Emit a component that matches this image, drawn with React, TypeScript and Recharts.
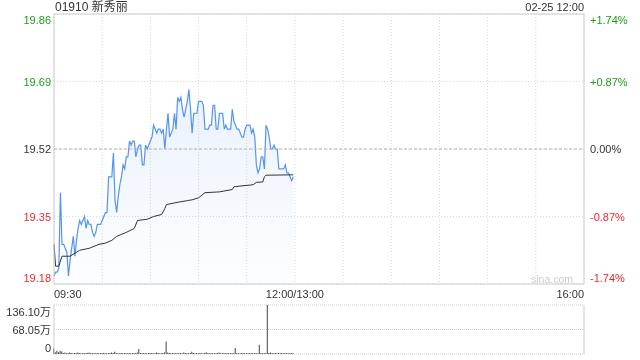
import React from "react";
import {
  ComposedChart,
  BarChart,
  Area,
  Line,
  Bar,
  XAxis,
  YAxis,
  CartesianGrid,
  ReferenceLine,
} from "recharts";

// minute index from 09:30 (0) to 16:00 (330), lunch break removed
const priceValues = [
  19.2, 19.21, 19.21, 19.22, 19.41, 19.28, 19.28, 19.27, 19.26, 19.2,
  19.24, 19.27, 19.3, 19.25, 19.29, 19.32, 19.34, 19.33, 19.34, 19.35,
  19.32, 19.34, 19.33, 19.33, 19.31, 19.3, 19.31, 19.33, 19.33, 19.33,
  19.34, 19.35, 19.36, 19.36, 19.45, 19.45, 19.45, 19.51, 19.39, 19.36,
  19.4, 19.43, 19.45, 19.48, 19.47, 19.5, 19.5, 19.54, 19.53, 19.54,
  19.54, 19.5, 19.52, 19.53, 19.53, 19.48, 19.48, 19.53, 19.52, 19.53,
  19.54, 19.55, 19.58, 19.57, 19.56, 19.57, 19.57, 19.56, 19.57, 19.52,
  19.57, 19.61, 19.55, 19.56, 19.57, 19.61, 19.57, 19.65, 19.64, 19.65,
  19.62, 19.6, 19.62, 19.64, 19.67, 19.62, 19.56, 19.61, 19.61, 19.61,
  19.64, 19.64, 19.64, 19.63, 19.57, 19.57, 19.57, 19.58, 19.58, 19.63,
  19.63, 19.57, 19.57, 19.61, 19.61, 19.61, 19.57, 19.58, 19.57, 19.57,
  19.57, 19.62, 19.59, 19.58, 19.57, 19.57, 19.56, 19.55, 19.55, 19.57,
  19.58, 19.58, 19.58, 19.56, 19.57, 19.55, 19.48, 19.46, 19.47, 19.5,
  19.5, 19.47, 19.58, 19.57, 19.55, 19.52, 19.52, 19.53, 19.52, 19.52,
  19.47, 19.47, 19.47, 19.47, 19.48, 19.46, 19.46, 19.45, 19.44, 19.45,
];

// average price line, read at the points where it changes slope
const avgMinutes = [
  0, 1, 3, 5, 10, 16, 22, 28, 32, 36, 39, 45, 50, 52, 58, 62, 67, 69, 70, 76,
  83, 86, 90, 91, 94, 103, 111, 112, 124, 126, 130, 131, 132, 149,
];
const avgValues = [
  19.28, 19.225, 19.225, 19.25, 19.25, 19.265, 19.27, 19.28, 19.283, 19.29,
  19.3, 19.31, 19.32, 19.34, 19.343, 19.35, 19.355, 19.37, 19.38, 19.385,
  19.39, 19.392, 19.397, 19.4, 19.41, 19.412, 19.418, 19.425, 19.43, 19.436,
  19.437, 19.45, 19.454, 19.455,
];

// volume per minute, in 万
const volumeValues = [
  15, 5, 9, 5, 9, 7, 3, 4, 2, 3,
  4, 3, 2, 3, 2, 4, 3, 2, 2, 3,
  2, 3, 4, 2, 3, 2, 2, 3, 2, 3,
  2, 3, 2, 2, 3, 2, 4, 3, 6, 3,
  2, 2, 3, 2, 3, 2, 2, 3, 2, 3,
  2, 3, 4, 14, 3, 2, 3, 2, 2, 3,
  2, 3, 2, 2, 4, 3, 2, 2, 3, 4,
  35, 4, 3, 2, 3, 2, 3, 2, 2, 3,
  2, 4, 3, 2, 2, 3, 6, 3, 2, 3,
  2, 3, 2, 2, 3, 5, 3, 2, 2, 3,
  2, 2, 3, 4, 2, 2, 3, 2, 2, 3,
  2, 3, 2, 17, 3, 2, 2, 3, 2, 2,
  3, 2, 2, 3, 2, 3, 2, 2, 26, 3,
  2, 3, 2, 136.1, 3, 4, 3, 2, 3, 2,
  3, 2, 3, 2, 2, 3, 2, 2, 3, 2,
];

const priceTicks = [19.18, 19.35, 19.52, 19.69, 19.86];
const priceLabels = ["19.18", "19.35", "19.52", "19.69", "19.86"];
const pctLabels = ["-1.74%", "-0.87%", "0.00%", "+0.87%", "+1.74%"];
const timeTicks = [0, 30, 60, 90, 120, 150, 180, 210, 240, 270, 300, 330];
const timeLabelTicks = [0, 150, 330];
const timeLabels = ["09:30", "12:00/13:00", "16:00"];
const volTicks = [0, 68.05, 136.1];
const volLabels = ["0", "68.05万", "136.10万"];

const GREEN = "#1c9e1c";
const RED = "#ee2a2a";
const FONT = "Arial, 'Liberation Sans', 'Noto Sans CJK SC', sans-serif";

const tableData = priceValues.map((p, i) => {
  const k = avgMinutes.indexOf(i);
  return {
    m: i,
    price: p,
    avg: k >= 0 ? avgValues[k] : null,
    vol: volumeValues[i],
  };
});

function PriceTick(props: any) {
  const { y, payload } = props;
  const i = priceTicks.indexOf(payload.value);
  if (i < 0) return null;
  const color = i < 2 ? RED : i === 2 ? "#333" : GREEN;
  const dy = i === 0 ? -6 : i === priceTicks.length - 1 ? 6 : 0;
  return (
    <g>
      <text x={51} y={y + dy} textAnchor="end" dominantBaseline="central" fontSize={11} fill={color}>
        {priceLabels[i]}
      </text>
      <text x={590} y={y + dy} textAnchor="start" dominantBaseline="central" fontSize={11} fill={color}>
        {pctLabels[i]}
      </text>
    </g>
  );
}

function TimeTick(props: any) {
  const { x, y, payload } = props;
  const i = timeLabelTicks.indexOf(payload.value);
  if (i < 0) return null;
  const anchor = i === 0 ? "start" : i === timeLabelTicks.length - 1 ? "end" : "middle";
  return (
    <text x={x} y={y + 8} textAnchor={anchor} dominantBaseline="central" fontSize={11} fill="#333">
      {timeLabels[i]}
    </text>
  );
}

function VolTick(props: any) {
  const { y, payload } = props;
  const i = volTicks.indexOf(payload.value);
  if (i < 0) return null;
  const dy = i === 0 ? -6 : i === volTicks.length - 1 ? 7 : 0;
  return (
    <text x={51} y={y + dy} textAnchor="end" dominantBaseline="central" fontSize={11} fill="#333">
      {volLabels[i]}
    </text>
  );
}

export default function App() {
  return (
    <div
      style={{
        position: "fixed",
        left: 0,
        top: 0,
        width: 640,
        height: 360,
        background: "#fff",
        fontFamily: FONT,
      }}
    >
      <div style={{ position: "absolute", left: 55, top: 0, fontSize: 12, color: "#333", lineHeight: "15px" }}>
        01910 新秀丽
      </div>
      <div style={{ position: "absolute", right: 56, top: 0, fontSize: 11, color: "#333", lineHeight: "15px" }}>
        02-25 12:00
      </div>

      <div style={{ position: "absolute", left: 0, top: 0 }}>
        <ComposedChart
          width={640}
          height={300}
          data={tableData}
          margin={{ top: 14, right: 56, left: 0, bottom: 0 }}
        >
          <defs>
            <linearGradient id="priceFill" x1="0" y1="0" x2="0" y2="1">
              <stop offset="0%" stopColor="#5291f0" stopOpacity={0.2} />
              <stop offset="100%" stopColor="#5291f0" stopOpacity={0.02} />
            </linearGradient>
          </defs>
          <CartesianGrid stroke="#d8d8d8" strokeDasharray="1 2" />
          <XAxis
            type="number"
            dataKey="m"
            domain={[0, 330]}
            ticks={timeTicks}
            interval={0}
            height={16}
            tickLine={false}
            tickSize={0}
            axisLine={{ stroke: "#ccc" }}
            tick={<TimeTick />}
          />
          <YAxis
            type="number"
            domain={[19.18, 19.86]}
            ticks={priceTicks}
            interval={0}
            width={54}
            tickLine={false}
            tickSize={0}
            axisLine={{ stroke: "#ccc" }}
            tick={<PriceTick />}
            allowDataOverflow
          />
          <ReferenceLine y={19.52} stroke="#b4b4b4" strokeDasharray="3 2" />
          <ReferenceLine y={19.86} stroke="#ccc" />
          <ReferenceLine x={330} stroke="#ccc" />
          <Area
            type="linear"
            dataKey="price"
            stroke="#5593f0"
            strokeWidth={1.2}
            fill="url(#priceFill)"
            dot={false}
            activeDot={false}
            isAnimationActive={false}
          />
          <Line
            type="linear"
            dataKey="avg"
            stroke="#333"
            strokeWidth={1}
            dot={false}
            activeDot={false}
            connectNulls
            isAnimationActive={false}
          />
        </ComposedChart>
      </div>

      <div
        style={{
          position: "absolute",
          right: 67,
          top: 273,
          fontSize: 10.5,
          color: "#ccc",
          lineHeight: "12px",
        }}
      >
        sina.com
      </div>

      <div style={{ position: "absolute", left: 0, top: 300 }}>
        <BarChart
          width={640}
          height={55}
          data={tableData}
          margin={{ top: 5, right: 56, left: 0, bottom: 1 }}
        >
          <CartesianGrid stroke="#ccc" strokeDasharray="1 1" vertical={false} />
          <XAxis type="number" dataKey="m" domain={[0, 330]} hide />
          <YAxis
            type="number"
            domain={[0, 136.1]}
            ticks={volTicks}
            interval={0}
            width={54}
            tickLine={false}
            tickSize={0}
            axisLine={{ stroke: "#ccc" }}
            tick={<VolTick />}
          />
          <ReferenceLine x={330} stroke="#ccc" />
          <Bar dataKey="vol" fill="#444" barSize={1} isAnimationActive={false} />
        </BarChart>
      </div>
    </div>
  );
}
